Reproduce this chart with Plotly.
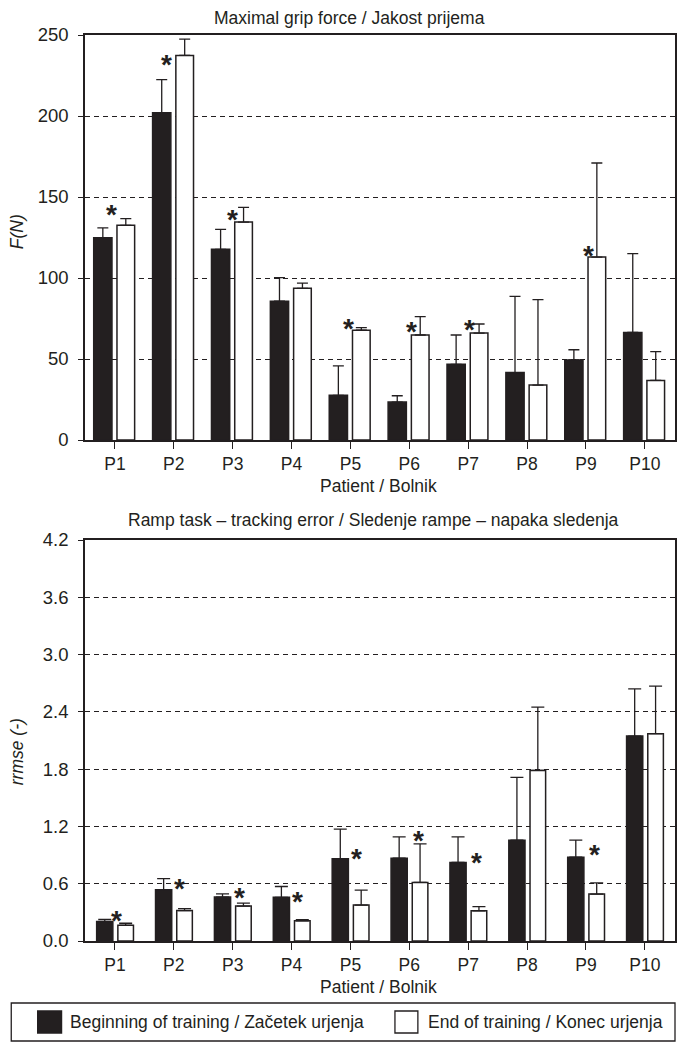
import plotly.graph_objects as go

# ---------------- data ----------------
patients = ["P1", "P2", "P3", "P4", "P5", "P6", "P7", "P8", "P9", "P10"]

grip_begin = [124.8, 202.0, 117.7, 85.7, 27.6, 23.4, 46.7, 41.6, 49.4, 66.4]
grip_begin_sd = [6.2, 20.4, 12.3, 14.5, 18.1, 3.9, 18.1, 47.0, 6.3, 48.6]
grip_end = [132.5, 237.4, 134.5, 93.6, 67.8, 64.8, 66.0, 33.9, 112.9, 36.8]
grip_end_sd = [4.1, 10.1, 9.1, 3.2, 1.6, 11.3, 5.6, 52.7, 58.1, 17.7]

ramp_begin = [0.205, 0.536, 0.460, 0.457, 0.861, 0.868, 0.822, 1.056, 0.878, 2.146]
ramp_begin_sd = [0.022, 0.117, 0.034, 0.114, 0.310, 0.222, 0.268, 0.658, 0.178, 0.495]
ramp_end = [0.164, 0.319, 0.366, 0.212, 0.376, 0.613, 0.317, 1.787, 0.491, 2.171]
ramp_end_sd = [0.022, 0.021, 0.031, 0.011, 0.157, 0.404, 0.042, 0.662, 0.118, 0.498]

grip_sig = ["P1", "P2", "P3", "P5", "P6", "P7", "P9"]
grip_sig_y = [142, 235, 139, 72, 70, 71, 117]
ramp_sig = ["P1", "P2", "P3", "P4", "P5", "P6", "P7", "P9"]
ramp_sig_y = [0.264, 0.600, 0.509, 0.463, 0.917, 1.108, 0.875, 0.958]

grip_ticks = [0, 50, 100, 150, 200, 250]
ramp_ticks = [0.0, 0.6, 1.2, 1.8, 2.4, 3.0, 3.6, 4.2]

title_top = "Maximal grip force / Jakost prijema"
title_bot = "Ramp task \u2013 tracking error / Sledenje rampe \u2013 napaka sledenja"
xlabel = "Patient / Bolnik"
leg_begin = "Beginning of training / Za\u010detek urjenja"
leg_end = "End of training / Konec urjenja"

# ---------------- layout helpers ----------------
W, H = 685, 1044
ML, MR, MT, MB = 85, 8, 35, 103
PW, PH = W - ML - MR, H - MT - MB
FONT = "Liberation Sans, Arial, sans-serif"
FS = 17.5
DARK = "#231f20"


def px(x):
    return (x - ML) / PW


def py(y):
    return (H - MB - y) / PH


fig = go.Figure()

def add_bars(xa, ya, vals, sds, fill, offset, width, capw):
    fig.add_trace(go.Bar(
        x=patients, y=vals, xaxis=xa, yaxis=ya,
        offset=offset, width=width,
        marker=dict(color=fill, line=dict(color=DARK, width=1.5)),
        error_y=dict(type="data", symmetric=False, array=sds,
                     arrayminus=[0] * len(sds), color=DARK,
                     thickness=1.3, width=capw),
        showlegend=False, hoverinfo="skip",
    ))

add_bars("x", "y", grip_begin, grip_begin_sd, DARK, -0.36, 0.31, 5.5)
add_bars("x", "y", grip_end, grip_end_sd, "white", 0.035, 0.30, 5.5)
add_bars("x2", "y2", ramp_begin, ramp_begin_sd, DARK, -0.31, 0.275, 6.5)
add_bars("x2", "y2", ramp_end, ramp_end_sd, "white", 0.05, 0.265, 6.5)

xrange = [-0.508, -0.508 + PW / 59.08]

common_x = dict(
    type="category", categoryorder="array", categoryarray=patients,
    range=xrange, showline=True, linecolor=DARK, linewidth=1.5, mirror=True,
    ticks="outside", ticklen=7, tickwidth=1.2, tickcolor=DARK,
    showgrid=False, zeroline=False,
    tickfont=dict(family=FONT, size=FS, color=DARK),
)
common_y = dict(
    showline=True, linecolor=DARK, linewidth=1.5, mirror=True,
    ticks="outside", ticklen=5, tickwidth=1.2, tickcolor=DARK,
    showgrid=True, gridcolor=DARK, gridwidth=1.1, griddash="5px,4px",
    zeroline=False, ticklabelstandoff=6,
    tickfont=dict(family=FONT, size=18.5, color=DARK),
)

top_bottom = py(440)
bot_top = py(540)

fig.update_layout(
    width=W, height=H,
    margin=dict(l=ML, r=MR, t=MT, b=MB, pad=0),
    paper_bgcolor="white", plot_bgcolor="white",
    barmode="overlay",
    xaxis=dict(domain=[0, 1], anchor="y", **common_x),
    yaxis=dict(domain=[top_bottom, 1], anchor="x", range=[0, 250],
               tickvals=grip_ticks, **common_y),
    xaxis2=dict(domain=[0, 1], anchor="y2", **common_x),
    yaxis2=dict(domain=[0, bot_top], anchor="x2", range=[0, 4.2],
                tickvals=ramp_ticks, tickformat=".1f", **common_y),
)

ann = []
def text(x, y, s, size=FS, italic=False, xanchor="center"):
    ann.append(dict(
        x=px(x), y=py(y), xref="paper", yref="paper", text=s,
        showarrow=False, xanchor=xanchor, yanchor="middle",
        font=dict(family=FONT, size=size, color=DARK,
                  style="italic" if italic else "normal"),
    ))

text(350, 18, title_top)
text(374, 520, title_bot)
text(379, 486, xlabel)
text(379, 987, xlabel)
text(17, 232, "F(N)", italic=True)
ann[-1]["textangle"] = -90
text(17, 752, "rrmse (-)", italic=True)
ann[-1]["textangle"] = -90

# significance stars
grip_shift = [-3, -7, 0, -2, 2, 1, 3]
for c, v, s in zip(grip_sig, grip_sig_y, grip_shift):
    ann.append(dict(x=c, y=v, xref="x", yref="y", text="<b>*</b>",
                    showarrow=False, xshift=s, yshift=-5,
                    font=dict(family=FONT, size=28, color=DARK)))
ramp_shift = [2, 6, 7, 6, 6, 9, 8, 9]
for c, v, s in zip(ramp_sig, ramp_sig_y, ramp_shift):
    ann.append(dict(x=c, y=v, xref="x2", yref="y2", text="<b>*</b>",
                    showarrow=False, xshift=s, yshift=-5,
                    font=dict(family=FONT, size=28, color=DARK)))

# legend (drawn box)
text(68, 1022, leg_begin, xanchor="left")
text(427, 1022, leg_end, xanchor="left")
fig.update_layout(annotations=ann)

shapes = [
    dict(type="rect", xref="paper", yref="paper",
         x0=px(11), x1=px(677), y0=py(1003), y1=py(1041),
         line=dict(color=DARK, width=1.3), fillcolor="rgba(0,0,0,0)"),
    dict(type="rect", xref="paper", yref="paper",
         x0=px(37.5), x1=px(61.5), y0=py(1011), y1=py(1033),
         line=dict(color=DARK, width=1.3), fillcolor=DARK),
    dict(type="rect", xref="paper", yref="paper",
         x0=px(396), x1=px(419), y0=py(1011), y1=py(1033),
         line=dict(color=DARK, width=1.3), fillcolor="white"),
]
fig.update_layout(shapes=shapes)

fig.write_html("out.html")
